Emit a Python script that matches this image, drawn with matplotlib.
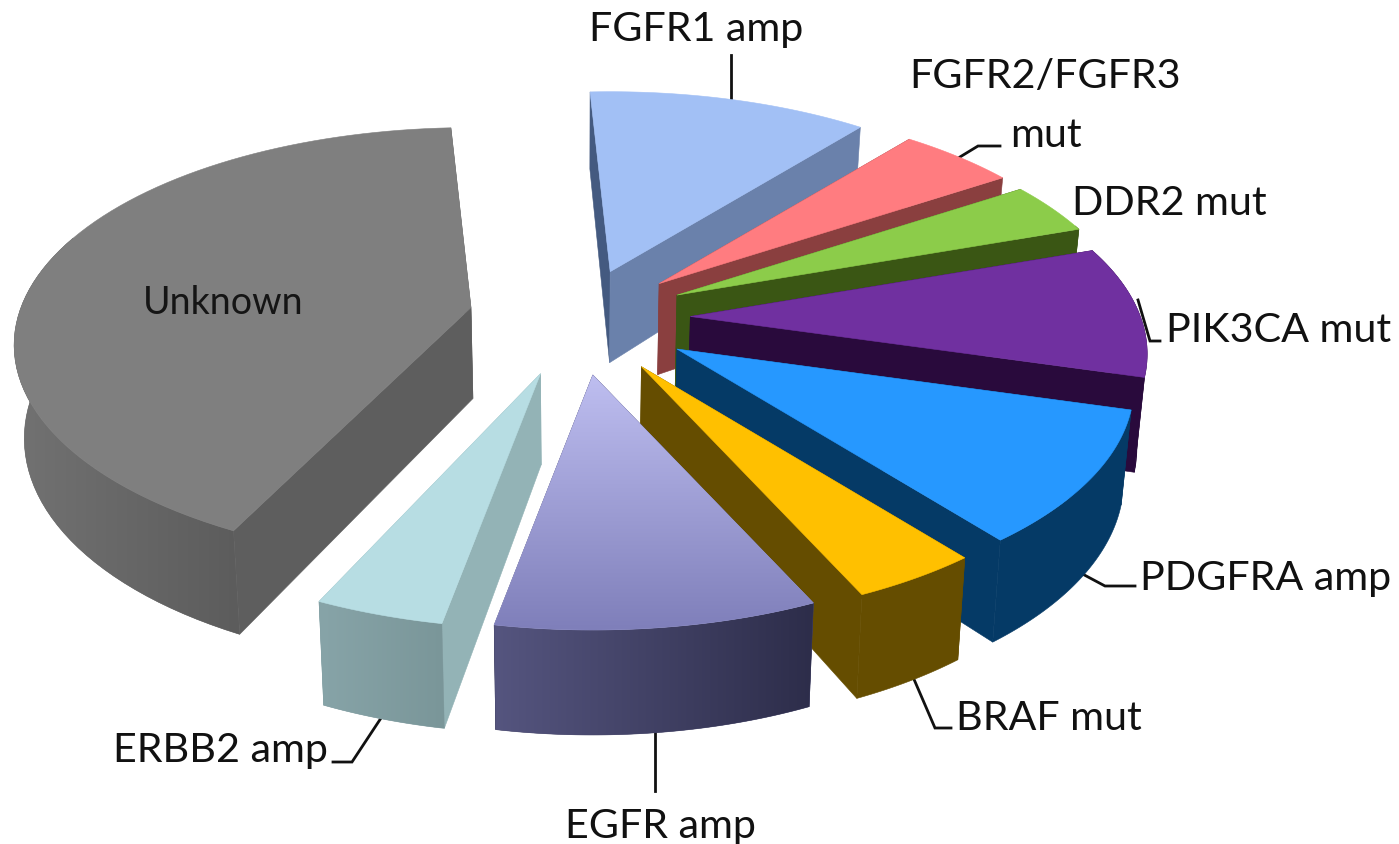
import numpy as np
import matplotlib
matplotlib.use('Agg')
import matplotlib.pyplot as plt
from matplotlib.patches import Polygon
from matplotlib.colors import to_rgb

# slice shares in percent, clockwise from the top
names = ['FGFR1 amp', 'FGFR2/FGFR3 mut', 'DDR2 mut', 'PIK3CA mut', 'PDGFRA amp',
         'BRAF mut', 'EGFR amp', 'ERBB2 amp', 'Unknown']
shares = [11.7, 4.9, 3.9, 9.8, 9.9, 3.9, 9.7, 3.9, 42.4]

# how far each slice is pulled out, as a fraction of the radius
explode = [0.24, 0.25, 0.25, 0.25, 0.258, 0.26, 0.26, 0.265, 0.245]

# degrees shaved off the leading edge of a slice, for the foreshortened front left
start_trim = [0, 0, 0, 0, 0, 0, 0, 0, 2]

top_colors = ['#A2C0F5', '#FF7C80', '#8CCC4A', '#7030A0', '#2698FF',
              '#FFC000', None, '#B7DDE3', '#7F7F7F']
cut_colors = ['#6A81AB', '#8A3F3F', '#3A5614', '#290A3C', '#053A66',
              '#654D00', '#3A3A5C', '#93B3B6', '#5E5E5E']
left_colors = ['#445A80', '#8A3F3F', '#3A5614', '#290A3C', '#053A66',
               '#654D00', '#3A3A5C', '#93B3B6', '#5E5E5E']
rim_colors = [('#6A81AB', '#6A81AB'), ('#8A3F3F', '#8A3F3F'), ('#3A5614', '#3A5614'),
              ('#290A3C', '#290A3C'), ('#053A66', '#053A66'), ('#654D00', '#654D00'),
              ('#55557F', '#2D2D4A'), ('#87A4A8', '#7A9699'), ('#727272', '#5C5C5C')]

# painter's order, back to front
draw_order = [0, 1, 2, 3, 4, 5, 6, 8, 7]

cx, cy = 578, 318
rx, ry = 450, 211
persp = 0.1725


def project(u, v):
    w = 1 + persp * v
    return rx * u / w, -ry * v / w


def lower(x, y, v):
    # bottom of the disc: a bit nearer the axis in x, deeper towards the viewer
    depth = 91 - 14 * v
    return x - (x - cx) * 0.018, y + depth


def gradient_poly(ax, pts, c0, c1, vertical, z):
    pts = np.array(pts)
    x0, y0 = pts.min(axis=0)
    x1, y1 = pts.max(axis=0)
    c0, c1 = np.array(to_rgb(c0)), np.array(to_rgb(c1))
    # flat base under the ramp keeps the clipped edge smooth
    flat_poly(ax, pts, tuple((c0 + c1) / 2), z)
    t = np.linspace(0, 1, 256)
    ramp = c0 + (c1 - c0) * t[:, None]
    img = ramp[:, None, :] if vertical else ramp[None, :, :]
    im = ax.imshow(img, extent=[x0, x1, y1, y0], aspect='auto', zorder=z, interpolation='bilinear')
    im.set_clip_path(Polygon(pts, transform=ax.transData))


def flat_poly(ax, pts, color, z):
    ax.add_patch(Polygon(pts, closed=True, facecolor=color, edgecolor=color, lw=0.4, zorder=z))


fig = plt.figure(figsize=(13.99, 8.44), dpi=100)
ax = fig.add_axes([0, 0, 1, 1])
plt.rcParams['font.family'] = ['Lato', 'DejaVu Sans']

edges = np.cumsum([0] + shares) / np.sum(shares) * 360 - 3

z = 10
for i in draw_order:
    a0, a1 = np.radians(edges[i] + start_trim[i]), np.radians(edges[i + 1])
    mid = (a0 + a1) / 2
    ox, oy = project(explode[i] * np.sin(mid), explode[i] * np.cos(mid))
    ax_pt = np.array([cx + ox, cy + oy])

    theta = np.linspace(a0, a1, 80)
    us, vs = np.sin(theta), np.cos(theta)
    px, py = project(us, vs)
    rim_x, rim_y = ax_pt[0] + px, ax_pt[1] + py
    low = [lower(x, y, v) for x, y, v in zip(rim_x, rim_y, vs)]
    apex_low = lower(ax_pt[0], ax_pt[1], 0)
    rim = list(zip(rim_x, rim_y))

    # both cut faces, then the outer wall, then the top
    flat_poly(ax, [rim[0], tuple(ax_pt), apex_low, low[0]], left_colors[i], z)
    flat_poly(ax, [rim[-1], tuple(ax_pt), apex_low, low[-1]], cut_colors[i], z + 1)
    front = vs < 0.35
    if front.sum() > 1:
        wall = [p for p, f in zip(rim, front) if f] + [p for p, f in zip(low, front) if f][::-1]
        if rim_colors[i][0] == rim_colors[i][1]:
            flat_poly(ax, wall, rim_colors[i][0], z + 2)
        else:
            gradient_poly(ax, wall, rim_colors[i][0], rim_colors[i][1], False, z + 2)
    top = [tuple(ax_pt)] + rim
    if top_colors[i] is None:
        gradient_poly(ax, top, '#BEBEF0', '#7F7FBA', True, z + 3)
    else:
        flat_poly(ax, top, top_colors[i], z + 3)
    z += 4

# leader lines sit behind the slices
leaders = [
    ([731, 731], [55, 105]),
    ([955, 978, 1000], [160, 146, 146]),
    ([1138, 1150, 1160], [300, 341, 341]),
    ([1075, 1105, 1135], [570, 586, 586]),
    ([910, 935, 951], [670, 728, 728]),
    ([655, 655], [725, 791]),
    ([385, 352, 333], [712, 762, 762]),
]
for lx, ly in leaders:
    ax.plot(lx, ly, color='#111111', lw=2, zorder=2, solid_joinstyle='miter')

label_size = 29.7
label_color = '#111111'
label_pos = [
    ('FGFR1 amp', 696, 41),
    ('FGFR2/FGFR3', 1045, 88),
    ('mut', 1046, 147),
    ('DDR2 mut', 1169, 215),
    ('PIK3CA mut', 1279, 342),
    ('PDGFRA amp', 1266, 590),
    ('BRAF mut', 1049, 730),
    ('EGFR amp', 660, 838),
    ('ERBB2 amp', 220, 762),
]
for text, x, y in label_pos:
    ax.text(x, y, text, fontsize=label_size, color=label_color, ha='center', va='baseline', zorder=100)
ax.text(223, 314, 'Unknown', fontsize=27, color='#151515', ha='center', va='baseline', zorder=100)

ax.set_xlim(0, 1399)
ax.set_ylim(844, 0)
ax.axis('off')

fig.savefig('out.png', dpi=100, facecolor='white')
